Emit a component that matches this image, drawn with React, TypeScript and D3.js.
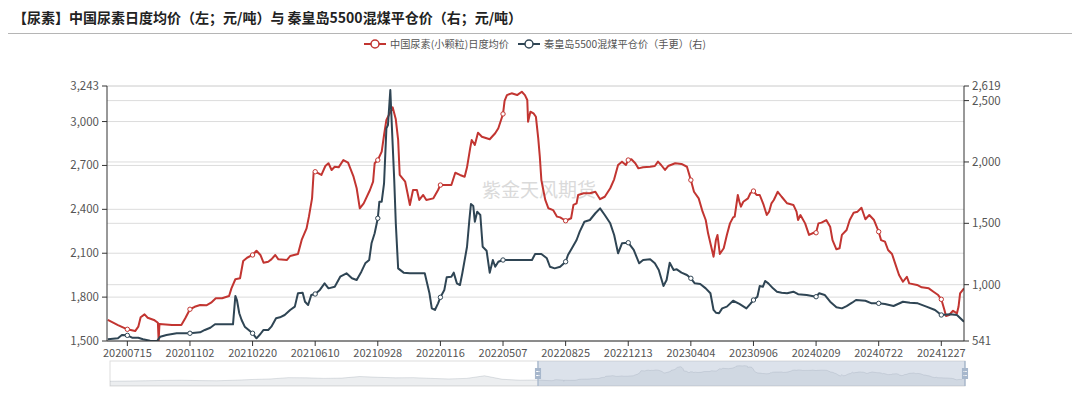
import React from "react";
import * as d3 from "d3";

// x labels shown under the axis (every 80th category)
const xLabels = [
  "20200715", "20201102", "20210220", "20210610", "20210928", "20220116", "20220507",
  "20220825", "20221213", "20230404", "20230906", "20240209", "20240722", "20241227",
];
const firstLabelIdx = 26;
const labelStep = 80;
const lastIdx = 1095;

const leftTicks = [1500, 1800, 2100, 2400, 2700, 3000, 3243];
const rightTicks = [541, 1000, 1500, 2000, 2500, 2619];

// [category index, 元/吨]
const ureaPrice: [number, number][] = [
  [1, 1644], [14, 1609], [26, 1580], [36, 1568], [40, 1598], [43, 1662], [48, 1682], [52, 1659],
  [60, 1644], [65, 1625], [66, 1500], [67, 1616], [83, 1609], [95, 1609], [100, 1655], [106, 1717],
  [112, 1734], [119, 1746], [127, 1744], [133, 1762], [139, 1792], [147, 1792], [156, 1808],
  [159, 1860], [164, 1922], [170, 1929], [174, 2047], [179, 2069], [186, 2088], [191, 2117],
  [196, 2088], [200, 2035], [206, 2042], [210, 2058], [215, 2088], [219, 2058], [230, 2054],
  [234, 2081], [244, 2095], [249, 2195], [255, 2270], [258, 2350], [262, 2475], [264, 2650],
  [266, 2657], [274, 2635], [279, 2696], [283, 2715], [287, 2669], [291, 2691], [296, 2687],
  [302, 2737], [308, 2719], [315, 2623], [319, 2544], [323, 2407], [328, 2441], [336, 2532],
  [340, 2589], [342, 2715], [346, 2737], [351, 2794], [354, 2908], [357, 3011], [365, 3097],
  [369, 3015], [372, 2874], [374, 2635], [381, 2589], [384, 2510], [387, 2430], [391, 2532],
  [396, 2532], [399, 2464], [404, 2498], [408, 2464], [417, 2475], [423, 2532], [426, 2566],
  [440, 2566], [445, 2650], [451, 2635], [457, 2623], [460, 2687], [464, 2817], [466, 2874],
  [470, 2840], [474, 2924], [479, 2896], [489, 2879], [496, 2920], [500, 2954], [506, 3052],
  [508, 3142], [511, 3181], [517, 3193], [524, 3181], [530, 3204], [534, 3181], [537, 3147],
  [538, 2999], [541, 3067], [545, 3056], [548, 3033], [551, 2885], [553, 2760], [555, 2600],
  [560, 2464], [564, 2407], [570, 2395], [575, 2350], [579, 2345], [586, 2322], [593, 2339],
  [596, 2430], [600, 2441], [602, 2498], [609, 2510], [617, 2510], [624, 2520], [630, 2469],
  [636, 2486], [643, 2544], [648, 2605], [653, 2703], [658, 2726], [663, 2703], [666, 2737],
  [670, 2742], [675, 2715], [679, 2680], [685, 2687], [694, 2691], [700, 2696], [704, 2726],
  [708, 2703], [713, 2669], [717, 2696], [726, 2715], [734, 2710], [741, 2691], [746, 2600],
  [750, 2520], [756, 2475], [761, 2384], [765, 2327], [768, 2236], [773, 2122], [775, 2076],
  [778, 2190], [780, 2225], [783, 2095], [788, 2134], [792, 2225], [796, 2304], [800, 2345],
  [802, 2350], [806, 2498], [808, 2452], [810, 2418], [813, 2452], [819, 2475], [822, 2510],
  [826, 2525], [830, 2498], [834, 2498], [839, 2430], [843, 2361], [846, 2384], [849, 2441],
  [852, 2464], [857, 2520], [862, 2486], [869, 2441], [877, 2430], [881, 2384], [883, 2327],
  [886, 2361], [892, 2304], [897, 2225], [903, 2240], [906, 2240], [909, 2304], [913, 2309],
  [919, 2327], [924, 2281], [927, 2190], [932, 2127], [936, 2134], [939, 2225], [945, 2259],
  [949, 2327], [954, 2377], [959, 2384], [964, 2411], [969, 2332], [974, 2361], [980, 2327],
  [986, 2247], [989, 2190], [994, 2179], [998, 2122], [1003, 2095], [1007, 2031], [1012, 1951],
  [1017, 1905], [1022, 1939], [1025, 1894], [1035, 1883], [1041, 1867], [1050, 1860],
  [1056, 1837], [1062, 1814], [1066, 1785], [1070, 1712], [1072, 1671], [1076, 1678],
  [1081, 1707], [1086, 1689], [1088, 1734], [1090, 1826], [1095, 1860],
];

const coalPrice: [number, number][] = [
  [1, 555], [14, 563], [19, 590], [26, 587], [32, 568], [40, 568], [46, 555], [55, 543], [64, 541],
  [68, 576], [76, 590], [89, 604], [106, 604], [119, 612], [125, 631], [132, 649], [138, 677],
  [161, 677], [164, 908], [166, 875], [169, 767], [172, 712], [176, 658], [186, 604], [191, 563],
  [196, 598], [200, 631], [206, 631], [210, 658], [216, 726], [221, 734], [227, 753], [234, 794],
  [240, 821], [244, 930], [250, 935], [253, 861], [257, 834], [261, 916], [266, 924], [272, 957],
  [278, 1011], [283, 970], [291, 983], [298, 1065], [306, 1093], [313, 1052], [319, 1038],
  [325, 1106], [330, 1174], [335, 1201], [338, 1337], [342, 1419], [346, 1541], [348, 1676],
  [351, 1676], [354, 1826], [357, 2274], [359, 2301], [362, 2586], [364, 2287], [367, 1853],
  [369, 1500], [372, 1133], [379, 1098], [387, 1093], [406, 1093], [409, 1011], [412, 930],
  [415, 807], [419, 794], [423, 848], [426, 897], [431, 957], [434, 1060], [440, 1065],
  [443, 1098], [447, 1011], [451, 997], [454, 1093], [460, 1309], [463, 1527], [465, 1657],
  [468, 1641], [470, 1513], [473, 1595], [477, 1568], [480, 1309], [485, 1277], [489, 1098],
  [493, 1201], [496, 1146], [500, 1187], [506, 1201], [528, 1201], [543, 1201], [547, 1250],
  [555, 1250], [562, 1215], [566, 1146], [572, 1133], [579, 1146], [586, 1187], [589, 1242],
  [594, 1296], [600, 1364], [604, 1432], [610, 1513], [617, 1527], [624, 1582], [630, 1622],
  [636, 1568], [643, 1500], [648, 1405], [653, 1256], [658, 1337], [666, 1342], [673, 1283],
  [680, 1174], [685, 1201], [694, 1207], [700, 1174], [705, 1120], [711, 989], [715, 1038],
  [719, 1179], [724, 1120], [728, 1125], [734, 1098], [741, 1079], [746, 1052], [751, 1011],
  [758, 1005], [765, 970], [771, 930], [775, 794], [778, 772], [782, 767], [786, 807],
  [792, 821], [800, 869], [808, 843], [817, 807], [822, 843], [826, 875], [831, 902], [834, 989],
  [838, 983], [841, 1030], [845, 1011], [851, 970], [856, 943], [862, 935], [869, 930],
  [877, 943], [883, 922], [894, 916], [906, 902], [910, 930], [917, 916], [924, 861], [932, 816],
  [939, 807], [945, 826], [952, 853], [957, 875], [969, 869], [977, 848], [986, 848], [994, 843],
  [1005, 826], [1017, 861], [1026, 853], [1036, 848], [1047, 821], [1058, 794], [1066, 753],
  [1077, 759], [1086, 753], [1095, 698],
];

// older urea data, only visible in the slider's shadow
const earlyUrea = [
  1510, 1530, 1560, 1600, 1620, 1580, 1560, 1620, 1700, 1760, 1900, 1880,
  1820, 1850, 2020, 1940, 1880, 1900, 1820, 1760, 1820, 2100, 1720, 1620,
];

const title = "【尿素】中国尿素日度均价（左；元/吨）与 秦皇岛5500混煤平仓价（右；元/吨）";
const seriesNames = ["中国尿素(小颗粒)日度均价", "秦皇岛5500混煤平仓价（手更）(右)"];
const colors = ["#c23531", "#2f4554"];

const W = 1080;
const H = 393;
const plot = { left: 107, right: 964, top: 86, bottom: 341 };
const slider = { left: 110, right: 965, mid: 538, top: 361, bottom: 386 };
const font = "'Noto Sans CJK SC', 'Noto Sans', sans-serif";
const handlePath =
  "M8.2,13.6V3.9H6.3v9.7H3.1v14.9h3.3v9.7h1.8v-9.7h3.3V13.6H8.2z M9.7,24.4H4.8v-1.4h4.9V24.4z M9.7,19.1H4.8v-1.4h4.9V19.1z";

const App = () => {
  const x = d3.scaleLinear().domain([0, lastIdx]).range([plot.left, plot.right]);
  const yL = d3.scaleLinear().domain([1500, 3243]).range([plot.bottom, plot.top]);
  const yR = d3.scaleLinear().domain([541, 2619]).range([plot.bottom, plot.top]);

  const tickIdx = xLabels.map((_, i) => firstLabelIdx + i * labelStep);

  const lineL = d3.line<[number, number]>().x((d) => x(d[0])).y((d) => yL(d[1]));
  const lineR = d3.line<[number, number]>().x((d) => x(d[0])).y((d) => yR(d[1]));

  // slider shadow
  const earlyX = d3.scaleLinear().domain([0, earlyUrea.length]).range([slider.left, slider.mid]);
  const lateX = d3.scaleLinear().domain([0, lastIdx]).range([slider.mid, slider.right]);
  const allVals = [...earlyUrea, ...ureaPrice.map((d) => d[1])];
  const [mn, mx] = d3.extent(allVals) as [number, number];
  const off = (mx - mn) * 0.3;
  const sy = d3.scaleLinear().domain([mn - off, mx + off]).range([slider.bottom, slider.top]);
  const shadowPts: [number, number][] = [
    ...earlyUrea.map((v, i) => [earlyX(i), v] as [number, number]),
    ...ureaPrice.map((d) => [lateX(d[0]), d[1]] as [number, number]),
  ];
  const shadowArea = d3
    .area<[number, number]>()
    .x((d) => d[0])
    .y0(slider.bottom)
    .y1((d) => sy(d[1]));
  const shadowLine = d3
    .line<[number, number]>()
    .x((d) => d[0])
    .y((d) => sy(d[1]));

  const hs = (slider.bottom - slider.top) / 34.4;

  return (
    <svg
      width={W}
      height={H}
      style={{ position: "absolute", left: 0, top: 0, background: "#fff" }}
      fontFamily={font}
    >
      <defs>
        <clipPath id="plotClip">
          <rect x={plot.left} y={plot.top - 2} width={plot.right - plot.left} height={plot.bottom - plot.top + 2} />
        </clipPath>
      </defs>

      {/* title */}
      <text x={13} y={23} fontSize={14} fontWeight="bold" fill="#222">
        {title}
      </text>
      <line x1={8} x2={1072} y1={33.5} y2={33.5} stroke="#b5b5b5" strokeWidth={1} />

      {/* legend */}
      {[364, 518].map((lx, i) => (
        <g key={i}>
          <line x1={lx} x2={lx + 22} y1={44} y2={44} stroke={colors[i]} strokeWidth={2} />
          <circle cx={lx + 11} cy={44} r={4} fill="#fff" stroke={colors[i]} strokeWidth={1.5} />
          <text x={lx + 26} y={44} dy="0.35em" fontSize={10.2} fill="#555">
            {seriesNames[i]}
          </text>
        </g>
      ))}

      {/* grid */}
      {leftTicks.map((t) => (
        <line key={"gl" + t} x1={plot.left} x2={plot.right} y1={yL(t)} y2={yL(t)} stroke="#dcdcdc" />
      ))}
      {rightTicks.map((t) => (
        <line key={"gr" + t} x1={plot.left} x2={plot.right} y1={yR(t)} y2={yR(t)} stroke="#dcdcdc" />
      ))}

      {/* watermark */}
      <text x={482} y={197} fontSize={19} fill="#dadada">
        紫金天风期货
      </text>

      {/* series */}
      <g clipPath="url(#plotClip)">
        <path d={lineL(ureaPrice) || ""} fill="none" stroke={colors[0]} strokeWidth={2} strokeLinejoin="round" />
        <path d={lineR(coalPrice) || ""} fill="none" stroke={colors[1]} strokeWidth={2} strokeLinejoin="round" />
      </g>
      {ureaPrice
        .filter((d) => tickIdx.includes(d[0]))
        .map((d) => (
          <circle key={"mu" + d[0]} cx={x(d[0])} cy={yL(d[1])} r={2.2} fill="#fff" stroke={colors[0]} strokeWidth={1} />
        ))}
      {coalPrice
        .filter((d) => tickIdx.includes(d[0]))
        .map((d) => (
          <circle key={"mc" + d[0]} cx={x(d[0])} cy={yR(d[1])} r={2.2} fill="#fff" stroke={colors[1]} strokeWidth={1} />
        ))}

      {/* left axis */}
      <line x1={plot.left} x2={plot.left} y1={plot.top} y2={plot.bottom} stroke="#333" />
      {leftTicks.map((t) => (
        <g key={"lt" + t}>
          <line x1={plot.left - 5} x2={plot.left} y1={yL(t)} y2={yL(t)} stroke="#333" />
          <text x={plot.left - 8} y={yL(t)} dy="0.35em" textAnchor="end" fontSize={11.5} fill="#555">
            {d3.format(",")(t)}
          </text>
        </g>
      ))}

      {/* right axis */}
      <line x1={plot.right} x2={plot.right} y1={plot.top} y2={plot.bottom} stroke="#333" />
      {rightTicks.map((t) => (
        <g key={"rt" + t}>
          <line x1={plot.right} x2={plot.right + 5} y1={yR(t)} y2={yR(t)} stroke="#333" />
          <text x={plot.right + 8} y={yR(t)} dy="0.35em" fontSize={11.5} fill="#555">
            {d3.format(",")(t)}
          </text>
        </g>
      ))}

      {/* x axis */}
      <line x1={plot.left} x2={plot.right} y1={plot.bottom} y2={plot.bottom} stroke="#333" />
      {tickIdx.map((ti, i) => (
        <g key={"xt" + ti}>
          <line x1={x(ti)} x2={x(ti)} y1={plot.bottom} y2={plot.bottom + 5} stroke="#333" />
          <text x={x(ti)} y={356.5} textAnchor="middle" fontSize={11} fill="#555">
            {xLabels[i]}
          </text>
        </g>
      ))}

      {/* data zoom slider */}
      <rect
        x={slider.left}
        y={slider.top}
        width={slider.right - slider.left}
        height={slider.bottom - slider.top}
        fill="none"
        stroke="#ddd"
      />
      <path d={shadowArea(shadowPts) || ""} fill="rgba(47,69,84,0.09)" />
      <path d={shadowLine(shadowPts) || ""} fill="none" stroke="rgba(47,69,84,0.3)" strokeWidth={0.5} />
      <rect
        x={slider.mid}
        y={slider.top}
        width={slider.right - slider.mid}
        height={slider.bottom - slider.top}
        fill="rgba(167,183,204,0.4)"
      />
      {[slider.mid, slider.right].map((hx) => (
        <path
          key={"h" + hx}
          d={handlePath}
          fill="#a7b7cc"
          transform={`translate(${hx - 7.3 * hs},${slider.top - 3.9 * hs}) scale(${hs})`}
        />
      ))}
    </svg>
  );
};

export default App;
